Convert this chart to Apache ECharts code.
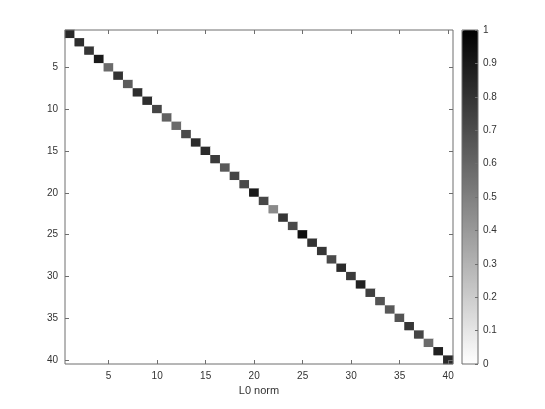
<!DOCTYPE html>
<html>
<head>
<meta charset="utf-8">
<script src="https://cdn.jsdelivr.net/npm/echarts@6/dist/echarts.min.js"></script>
<style>html,body{margin:0;padding:0;background:#fff}#c{width:545px;height:409px}</style>
</head>
<body>
<div id="c"></div>
<script>
// Diagonal values of the 40x40 matrix (off-diagonal entries are 0)
const categories = Array.from({length: 40}, (_, i) => String(i + 1));
const diagValues = [
  0.84, 0.82, 0.79, 0.90, 0.58, 0.80, 0.64, 0.82, 0.82, 0.73,
  0.62, 0.58, 0.71, 0.83, 0.83, 0.77, 0.65, 0.73, 0.71, 0.90,
  0.72, 0.46, 0.79, 0.71, 0.94, 0.80, 0.79, 0.71, 0.83, 0.77,
  0.87, 0.75, 0.67, 0.65, 0.67, 0.79, 0.73, 0.58, 0.87, 0.83
];
const xTickLabels = ['5','10','15','20','25','30','35','40'];
const colorbarTicks = [0,0.1,0.2,0.3,0.4,0.5,0.6,0.7,0.8,0.9,1];
const xLabel = 'L0 norm';

const data = [];
for (let i = 0; i < 40; i++) {
  for (let j = 0; j < 40; j++) {
    data.push([j, i, i === j ? diagValues[i] : 0]);
  }
}

const axisColor = '#6e6e6e';
const textColor = '#333333';
const font = 'Liberation Sans, Arial, sans-serif';
const showTick = (idx) => xTickLabels.indexOf(categories[idx]) >= 0;
const tickStyle = {show: true, inside: true, length: 4, alignWithLabel: true, interval: (i) => showTick(i), lineStyle: {color: axisColor, width: 1}};

const chart = echarts.init(document.getElementById('c'), null, {renderer: 'canvas'});
chart.setOption({
  animation: false,
  backgroundColor: '#fff',
  grid: [
    {left: 65, top: 30, width: 388, height: 334, show: true, borderColor: axisColor, borderWidth: 1, backgroundColor: 'transparent', containLabel: false, z: 5},
    {left: 462, top: 30, width: 16, height: 334, show: true, borderColor: axisColor, borderWidth: 1, backgroundColor: 'transparent', containLabel: false, z: 10}
  ],
  xAxis: [
    {
      type: 'category', data: categories, gridIndex: 0, position: 'bottom', z: 20,
      name: xLabel, nameLocation: 'middle', nameGap: 21,
      nameTextStyle: {fontFamily: font, fontSize: 11, color: textColor},
      axisLine: {show: false},
      axisTick: tickStyle,
      axisLabel: {interval: (i) => showTick(i), fontFamily: font, fontSize: 10, color: textColor, margin: 7},
      splitLine: {show: false}
    },
    {
      type: 'category', data: categories, gridIndex: 0, position: 'top', z: 20,
      axisLine: {show: false},
      axisTick: tickStyle,
      axisLabel: {show: false}, splitLine: {show: false}
    },
    {
      type: 'category', data: [''], gridIndex: 1, show: false
    }
  ],
  yAxis: [
    {
      type: 'category', data: categories, gridIndex: 0, inverse: true, position: 'left', z: 20,
      axisLine: {show: false},
      axisTick: tickStyle,
      axisLabel: {interval: (i) => showTick(i), fontFamily: font, fontSize: 10, color: textColor, margin: 7},
      splitLine: {show: false}
    },
    {
      type: 'category', data: categories, gridIndex: 0, inverse: true, position: 'right', z: 20,
      axisLine: {show: false},
      axisTick: tickStyle,
      axisLabel: {show: false}, splitLine: {show: false}
    },
    {
      type: 'value', gridIndex: 1, min: 0, max: 1, interval: 0.1, position: 'right', z: 20,
      axisLine: {show: false},
      axisTick: {show: true, inside: true, length: 3, lineStyle: {color: axisColor}},
      axisLabel: {fontFamily: font, fontSize: 10, color: textColor, margin: 5,
        formatter: (v) => (colorbarTicks.indexOf(Math.round(v * 10) / 10) >= 0 ? String(Math.round(v * 10) / 10) : '')},
      splitLine: {show: false}
    }
  ],
  visualMap: {
    type: 'continuous', min: 0, max: 1, seriesIndex: 0,
    inRange: {color: ['#ffffff', '#000000']},
    calculable: false, realtime: false, hoverLink: false,
    orient: 'vertical', left: 462, top: 30, itemWidth: 16, itemHeight: 334,
    padding: 0, text: ['', ''], showLabel: false, textGap: 0
  },
  series: [{
    type: 'heatmap', xAxisIndex: 0, yAxisIndex: 0, data: data,
    itemStyle: {borderWidth: 0}, emphasis: {disabled: true}, progressive: 0
  }]
});
</script>
</body>
</html>
